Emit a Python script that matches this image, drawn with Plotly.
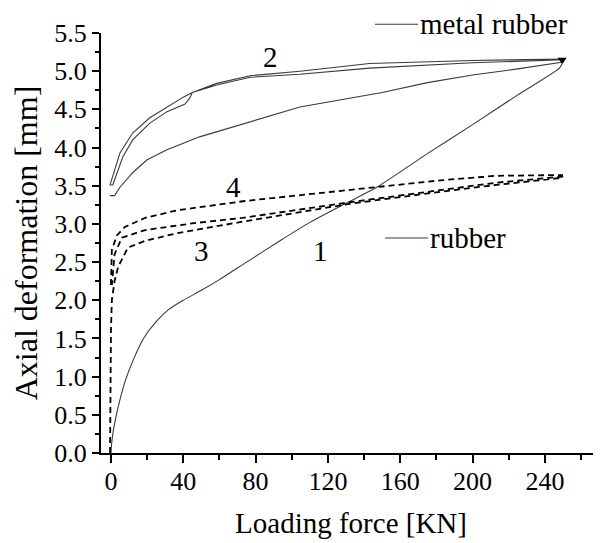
import plotly.graph_objects as go

# ---- Data ----
# Curve 1: rubber, solid
rubber_force = [0, 0.5, 1.5, 3, 5, 8, 12, 18, 25, 32, 40, 50, 60, 75, 93.5, 110, 130,
                147, 175, 200, 225, 248, 250]
rubber_def = [0, 0.15, 0.32, 0.5, 0.7, 0.95, 1.2, 1.5, 1.72, 1.88, 2.0, 2.13, 2.27, 2.5,
              2.78, 3.02, 3.27, 3.48, 3.92, 4.3, 4.69, 5.04, 5.12]

# Curve 2: metal rubber loop (loading, unloading, reloading)
mr_load_force = [-0.5, 2, 5, 12, 20, 31, 49, 77, 104.5, 150, 175, 200, 225, 250]
mr_load_def = [3.37, 3.37, 3.48, 3.67, 3.84, 3.97, 4.14, 4.34, 4.53, 4.72, 4.85, 4.95, 5.03, 5.12]
mr_unload_force = [251, 200, 143, 104.5, 77, 58.5, 45, 40, 31, 21.5, 12, 5, 2, -0.5]
mr_unload_def = [5.16, 5.14, 5.1, 5.0, 4.94, 4.84, 4.72, 4.66, 4.53, 4.39, 4.19, 3.93, 3.7, 3.51]
mr_reload_force = [1, 6.6, 12, 21.5, 31, 41, 43.6, 45, 58.5, 77, 104.5, 143, 200, 250]
mr_reload_def = [3.51, 3.88, 4.1, 4.32, 4.47, 4.57, 4.65, 4.72, 4.82, 4.92, 4.96, 5.04, 5.11, 5.15]

# Curve 3: dashed loop (loading, unloading)
c3_load_force = [-0.5, -0.3, 0, 0.5, 2, 4, 9.4, 19, 37, 73, 134, 182, 213, 248]
c3_load_def = [0, 0.8, 1.6, 2.0, 2.25, 2.44, 2.69, 2.78, 2.88, 3.03, 3.27, 3.42, 3.51, 3.6]
c3_unload_force = [250, 213, 182, 134, 73, 46, 19, 6, 2, 0.5]
c3_unload_def = [3.62, 3.54, 3.44, 3.29, 3.08, 3.01, 2.92, 2.82, 2.6, 2.2]

# Curve 4: dashed upper
c4_force = [0, 0.5, 3.3, 7.7, 19, 37, 74, 145, 182, 213, 250]
c4_def = [2.2, 2.66, 2.85, 2.96, 3.08, 3.18, 3.3, 3.48, 3.57, 3.63, 3.64]

# End point marker
end_force = [249.5]
end_def = [5.15]

# Curve labels
label_text = ["1", "2", "3", "4"]
label_force = [116, 88, 50, 67.5]
label_def = [2.65, 5.18, 2.65, 3.48]

x_ticks = [0, 40, 80, 120, 160, 200, 240]
y_ticks = [0.0, 0.5, 1.0, 1.5, 2.0, 2.5, 3.0, 3.5, 4.0, 4.5, 5.0, 5.5]

FONT = "Times New Roman, Liberation Serif, DejaVu Serif, serif"
SOLID = "#3a3a3a"

fig = go.Figure()

fig.add_trace(go.Scatter(
    x=mr_load_force + mr_unload_force + mr_reload_force,
    y=mr_load_def + mr_unload_def + mr_reload_def,
    mode="lines", line=dict(color=SOLID, width=1.1), name="metal rubber",
    showlegend=False))

fig.add_trace(go.Scatter(
    x=rubber_force, y=rubber_def, mode="lines", line_shape="spline",
    line=dict(color=SOLID, width=1.1, smoothing=0.6), name="rubber", showlegend=False))

fig.add_trace(go.Scatter(
    x=c3_load_force + c3_unload_force, y=c3_load_def + c3_unload_def, mode="lines",
    line=dict(color="black", width=1.8, dash="6px,4px"), showlegend=False))

fig.add_trace(go.Scatter(
    x=c4_force, y=c4_def, mode="lines",
    line=dict(color="black", width=1.8, dash="6px,4px"), showlegend=False))

fig.add_trace(go.Scatter(
    x=end_force, y=end_def, mode="markers",
    marker=dict(symbol="triangle-down", size=8, color="black"), showlegend=False))

for t, fx, dy in zip(label_text, label_force, label_def):
    fig.add_annotation(x=fx, y=dy, text=t, showarrow=False,
                       font=dict(family=FONT, size=29, color="black"))

# Key entries
fig.add_shape(type="line", xref="paper", yref="paper", x0=0.548, x1=0.634, y0=1.021, y1=1.021,
              line=dict(color=SOLID, width=1.1))
fig.add_annotation(xref="paper", yref="paper", x=0.634, y=1.021, xanchor="left", yanchor="middle",
                   text="metal rubber", showarrow=False,
                   font=dict(family=FONT, size=29, color="black"))
fig.add_shape(type="line", xref="paper", yref="paper", x0=0.568, x1=0.654, y0=0.512, y1=0.512,
              line=dict(color=SOLID, width=1.1))
fig.add_annotation(xref="paper", yref="paper", x=0.654, y=0.512, xanchor="left", yanchor="middle",
                   text="rubber", showarrow=False,
                   font=dict(family=FONT, size=29, color="black"))

fig.update_layout(
    width=593, height=535,
    margin=dict(l=93, r=0, t=25, b=90),
    paper_bgcolor="white", plot_bgcolor="white",
    font=dict(family=FONT, color="black"),
    showlegend=False,
)
fig.update_xaxes(
    range=[-5.5, 271], tickvals=x_ticks, ticktext=[str(v) for v in x_ticks],
    showline=True, linecolor="black", linewidth=2, showgrid=False, zeroline=False,
    ticks="outside", ticklen=8, tickwidth=1.5, tickcolor="black", automargin=False,
    ticklabelstandoff=-4,
    minor=dict(ticks="outside", ticklen=5, tickwidth=1.5, tickcolor="black", dtick=20, tick0=0),
    tickfont=dict(family=FONT, size=26),
    title=dict(text="Loading force [KN]", font=dict(family=FONT, size=29), standoff=17),
)
fig.update_yaxes(
    range=[0, 5.5], tickvals=y_ticks, ticktext=[f"{v:.1f}" for v in y_ticks],
    showline=True, linecolor="black", linewidth=2, showgrid=False, zeroline=False,
    ticks="outside", ticklen=7, tickwidth=1.5, tickcolor="black", automargin=False,
    minor=dict(ticks="outside", ticklen=4, tickwidth=1.5, tickcolor="black", dtick=0.25, tick0=0),
    tickfont=dict(family=FONT, size=26),
    title=dict(text="Axial deformation [mm]", font=dict(family=FONT, size=32), standoff=27),
)

fig.write_html("out.html")
